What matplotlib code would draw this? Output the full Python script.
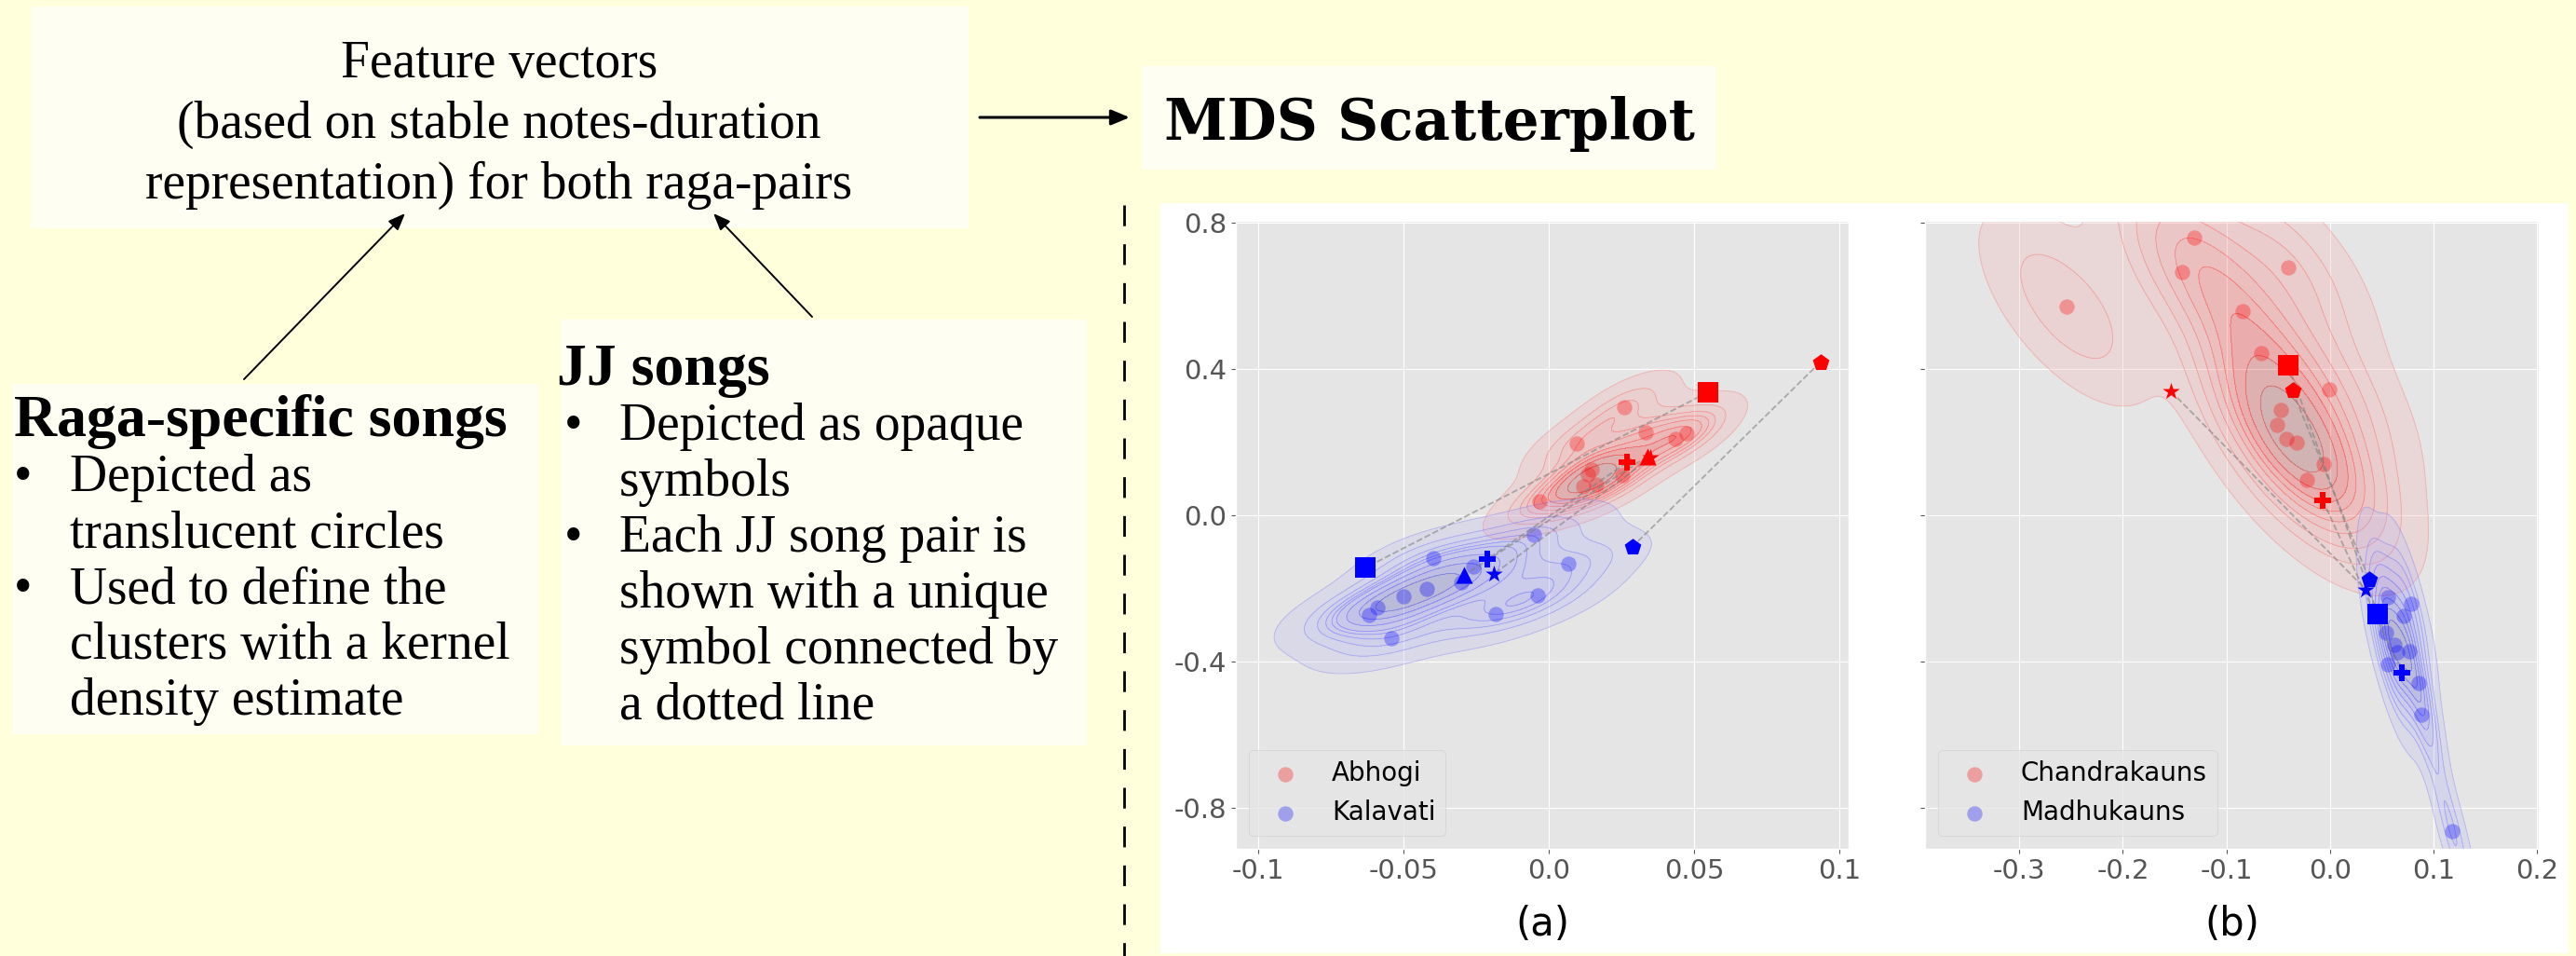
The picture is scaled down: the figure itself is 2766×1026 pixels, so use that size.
import numpy as np
import matplotlib
matplotlib.use("Agg")
import matplotlib.pyplot as plt
import seaborn as sns
from matplotlib.patches import Rectangle, FancyArrowPatch
from matplotlib.lines import Line2D

W, H = 2766, 1026
BG = "#FFFFDC"
BOX = "#FEFFF2"

# ---- panel (a) : Abhogi / Kalavati ----
abhogi_x = [0.026, 0.0332, 0.0437, 0.0473, 0.0097, 0.0146, 0.0133, 0.012, 0.0162, 0.0254, -0.0033]
abhogi_y = [0.296, 0.227, 0.209, 0.225, 0.197, 0.126, 0.112, 0.079, 0.083, 0.109, 0.038]
kalavati_x = [-0.0051, -0.0398, -0.026, 0.0067, -0.030, -0.042, -0.050, -0.0038, -0.0591, -0.0619, -0.0183, -0.0543]
kalavati_y = [-0.053, -0.117, -0.140, -0.132, -0.184, -0.201, -0.222, -0.219, -0.252, -0.273, -0.269, -0.336]

# JJ song pairs (one symbol per pair)
jj_marks_a = ["s", "p", "P", "^", "*"]
jj_abhogi_x = [0.0547, 0.0935, 0.0268, 0.0340, 0.0350]
jj_abhogi_y = [0.336, 0.419, 0.144, 0.161, 0.157]
jj_kalavati_x = [-0.063, 0.0288, -0.0213, -0.0291, -0.0188]
jj_kalavati_y = [-0.143, -0.086, -0.121, -0.164, -0.160]

# ---- panel (b) : Chandrakauns / Madhukauns ----
chandra_x = [-0.131, -0.143, -0.0407, -0.2546, -0.0848, -0.0661, -0.0004, -0.0478, -0.0511, -0.042, -0.032, -0.0058, -0.022]
chandra_y = [0.758, 0.666, 0.678, 0.571, 0.559, 0.442, 0.345, 0.289, 0.246, 0.210, 0.199, 0.139, 0.096]
madhu_x = [0.0558, 0.0787, 0.0712, 0.0537, 0.062, 0.065, 0.0762, 0.0558, 0.0858, 0.0887, 0.1182]
madhu_y = [-0.223, -0.243, -0.274, -0.320, -0.353, -0.375, -0.371, -0.407, -0.458, -0.545, -0.864]

jj_marks_b = ["s", "p", "*", "P"]
jj_chandra_x = [-0.0403, -0.0362, -0.1535, -0.0070]
jj_chandra_y = [0.410, 0.341, 0.339, 0.041]
jj_madhu_x = [0.0462, 0.038, 0.0346, 0.0695]
jj_madhu_y = [-0.270, -0.176, -0.203, -0.431]

ytick_vals = [0.8, 0.4, 0.0, -0.4, -0.8]
ytick_labels = ["0.8", "0.4", "0.0", "-0.4", "-0.8"]
xtick_a = [-0.1, -0.05, 0.0, 0.05, 0.1]
xtick_a_labels = ["-0.1", "-0.05", "0.0", "0.05", "0.1"]
xtick_b = [-0.3, -0.2, -0.1, 0.0, 0.1, 0.2]
xtick_b_labels = ["-0.3", "-0.2", "-0.1", "0.0", "0.1", "0.2"]

marker_size = {"s": 230, "p": 180, "P": 180, "^": 170, "*": 190}

plt.style.use("ggplot")
fig = plt.figure(figsize=(W / 100, H / 100), dpi=100, facecolor=BG)


def fx(x):
    return x / W


def fy(y):
    return 1 - y / H


def box(x0, y0, x1, y1, color=BOX):
    fig.add_artist(Rectangle((fx(x0), fy(y1)), (x1 - x0) / W, (y1 - y0) / H,
                             transform=fig.transFigure, facecolor=color,
                             edgecolor="none", zorder=-2))


def arrow(p0, p1, lw, hl=0.6, hw=0.25):
    fig.add_artist(FancyArrowPatch((fx(p0[0]), fy(p0[1])), (fx(p1[0]), fy(p1[1])),
                                   transform=fig.transFigure,
                                   arrowstyle="-|>,head_length=%s,head_width=%s" % (hl, hw),
                                   mutation_scale=20, lw=lw, color="black",
                                   shrinkA=0, shrinkB=0, zorder=3))


# ---- slide part ----
box(33, 7, 1040, 245)
box(1226, 71, 1843, 182)
box(13, 412, 578, 788)
box(603, 343, 1167, 800)
box(1246, 218, 2758, 1023, color="white")

serif = "Liberation Serif"
for s, yb in zip(["Feature vectors", "(based on stable notes-duration",
                  "representation) for both raga-pairs"], [83, 148, 213]):
    fig.text(fx(536), fy(yb), s, ha="center", va="baseline", fontsize=40,
             family=serif, color="black")

fig.text(fx(1535), fy(150), "MDS Scatterplot", ha="center", va="baseline",
         fontsize=44, family="DejaVu Serif", weight="bold", color="black")

fig.text(fx(15), fy(468), "Raga-specific songs", va="baseline", fontsize=46,
         family=serif, weight="bold")
raga_lines = [("Depicted as", True), ("translucent circles", False),
              ("Used to define the", True), ("clusters with a kernel", False),
              ("density estimate", False)]
for (s, bullet), yb in zip(raga_lines, [527, 587, 647, 707, 767]):
    if bullet:
        fig.text(fx(15), fy(yb), "\u2022", va="baseline", fontsize=40, family=serif)
    fig.text(fx(75), fy(yb), s, va="baseline", fontsize=40, family=serif)

fig.text(fx(598), fy(413), "JJ songs", va="baseline", fontsize=46,
         family=serif, weight="bold")
jj_lines = [("Depicted as opaque", True), ("symbols", False),
            ("Each JJ song pair is", True), ("shown with a unique", False),
            ("symbol connected by", False), ("a dotted line", False)]
for (s, bullet), yb in zip(jj_lines, [472, 532, 592, 652, 712, 772]):
    if bullet:
        fig.text(fx(606), fy(yb), "\u2022", va="baseline", fontsize=40, family=serif)
    fig.text(fx(665), fy(yb), s, va="baseline", fontsize=40, family=serif)

arrow((1052, 126), (1213, 126), 2.2)
arrow((262, 407), (435, 229), 1.4, 0.55, 0.22)
arrow((872, 340), (766, 229), 1.4, 0.55, 0.22)

fig.add_artist(Line2D([fx(1207), fx(1207)], [fy(220), 0], transform=fig.transFigure,
                      color="black", lw=2, dashes=(8, 7), zorder=3))

# ---- scatter panels ----
ax_a = fig.add_axes([fx(1327), fy(911), 658 / W, 674 / H])
ax_b = fig.add_axes([fx(2067), fy(911), 659 / W, 674 / H], sharey=ax_a)


def panel(ax, rx, ry, bx, by, rname, bname, marks, jrx, jry, jbx, jby):
    for x, y, c in [(rx, ry, "red"), (bx, by, "blue")]:
        sns.kdeplot(x=x, y=y, ax=ax, fill=True, color=c, alpha=0.28, thresh=0.03, zorder=1)
        sns.kdeplot(x=x, y=y, ax=ax, color=c, alpha=0.15, linewidths=0.7, thresh=0.03, zorder=1)
    ax.scatter(rx, ry, s=140, color="red", alpha=0.3, lw=0, label=rname, zorder=3)
    ax.scatter(bx, by, s=140, color="blue", alpha=0.3, lw=0, label=bname, zorder=3)
    for m, x0, y0, x1, y1 in zip(marks, jrx, jry, jbx, jby):
        ax.plot([x0, x1], [y0, y1], ls="--", color="gray", lw=1.3, alpha=0.6, zorder=4)
        ax.scatter([x0], [y0], marker=m, s=marker_size[m], color="red", lw=0, zorder=5)
        ax.scatter([x1], [y1], marker=m, s=marker_size[m], color="blue", lw=0, zorder=5)
    ax.legend(loc="lower left", fontsize=20)


panel(ax_a, abhogi_x, abhogi_y, kalavati_x, kalavati_y, "Abhogi", "Kalavati",
      jj_marks_a, jj_abhogi_x, jj_abhogi_y, jj_kalavati_x, jj_kalavati_y)
panel(ax_b, chandra_x, chandra_y, madhu_x, madhu_y, "Chandrakauns", "Madhukauns",
      jj_marks_b, jj_chandra_x, jj_chandra_y, jj_madhu_x, jj_madhu_y)

ax_a.set_xticks(xtick_a, xtick_a_labels)
ax_b.set_xticks(xtick_b, xtick_b_labels)
ax_a.set_yticks(ytick_vals, ytick_labels)
ax_a.set_xlim(-0.1077, 0.1032)
ax_b.set_xlim(-0.391, 0.2016)
ax_a.set_ylim(-0.912, 0.805)
ax_b.tick_params(labelleft=False)
for ax, lab in [(ax_a, "(a)"), (ax_b, "(b)")]:
    ax.tick_params(labelsize=21)
    ax.set_xlabel(lab, fontsize=30, color="black", labelpad=16)
    ax.set_ylabel("")

fig.savefig("out.png", dpi=100, facecolor=BG)
